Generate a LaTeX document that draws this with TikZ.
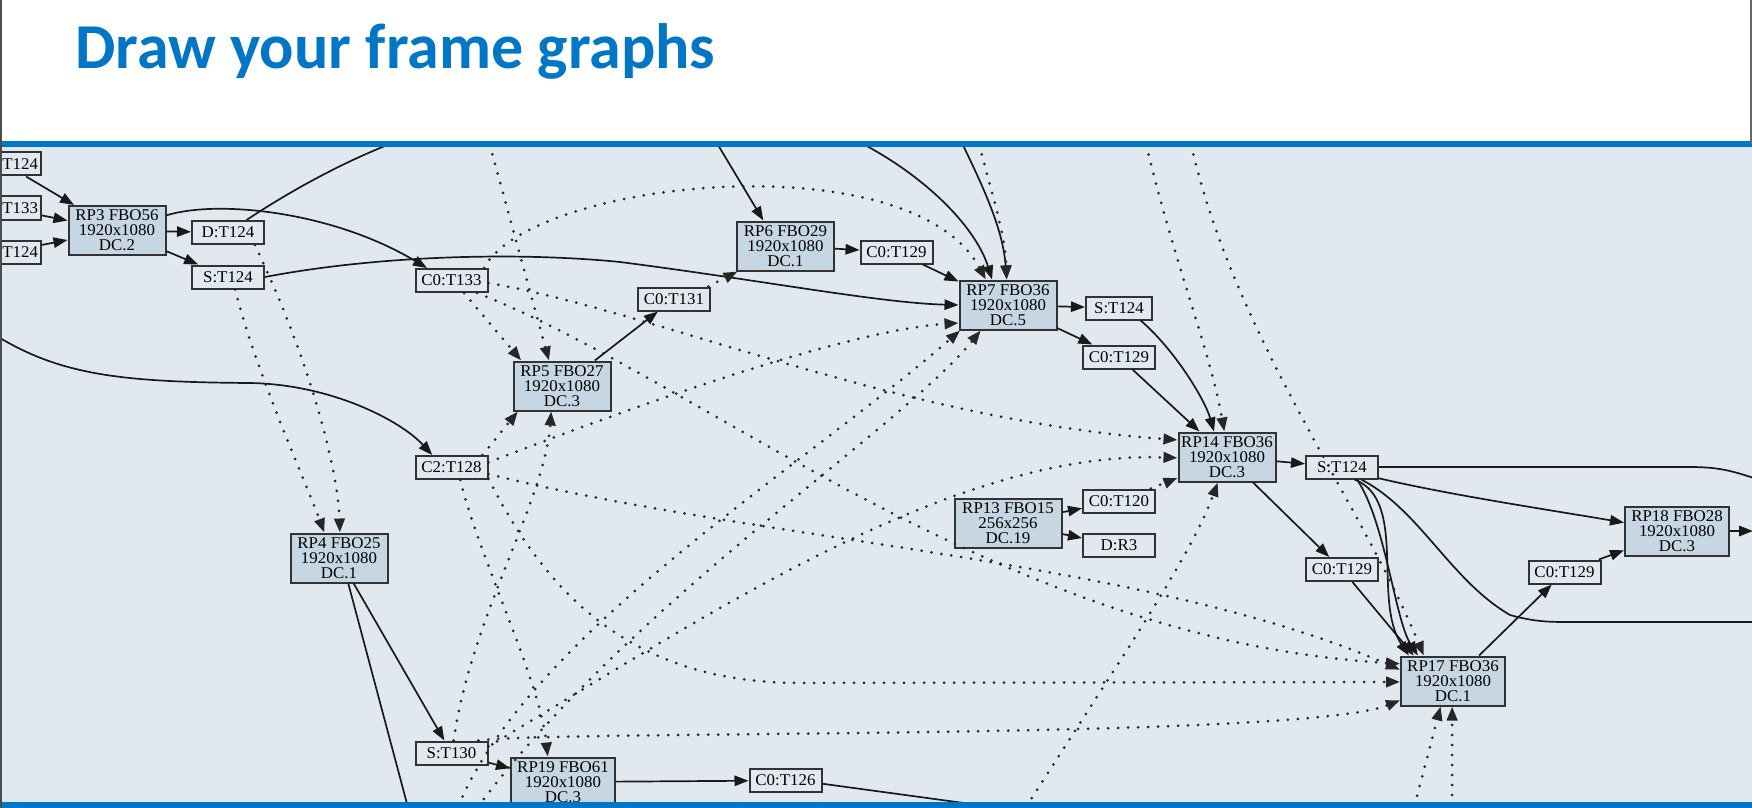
\documentclass[tikz,border=0pt]{standalone}
\usepackage{fontspec}
\usetikzlibrary{arrows.meta}
\newfontfamily\gvfont[FakeStretch=1.03]{Liberation Serif}
\newfontfamily\slidefont{Carlito}
\definecolor{slideblue}{RGB}{0,118,198}
\definecolor{graphbg}{RGB}{226,232,240}
\definecolor{passfill}{RGB}{198,214,226}
\definecolor{boxline}{RGB}{50,50,50}
\begin{document}
\begin{tikzpicture}[x=0.5pt,y=-0.5pt,
  rpass/.style={draw=boxline,line width=1pt,fill=passfill,inner sep=0pt,minimum width=48.5pt,minimum height=24.5pt,align=center,font=\gvfont\fontsize{8.2}{7.5}\selectfont},
  res/.style={draw=boxline,line width=1pt,fill=graphbg,inner sep=0pt,minimum width=36pt,minimum height=11.5pt,font=\gvfont\fontsize{8.2}{7.5}\selectfont},
  wr/.style={draw=black!90,line width=0.85pt,-{Triangle[length=7pt,width=5.2pt]}},
  rd/.style={draw=black!85,line width=1.5pt,line cap=round,dash pattern=on 0pt off 5pt,-{Triangle[length=7pt,width=5.2pt]}}]
\useasboundingbox (0,0) rectangle (1752,808);
\fill[white] (0,0) rectangle (1752,808);
\fill[graphbg] (0,144) rectangle (1752,803);

\node[anchor=base west,inner sep=0pt,text=slideblue,font=\slidefont\bfseries\fontsize{32}{38}\selectfont] (title) at (75,69) {Draw your frame graphs};

\begin{scope}
\clip (2,147) rectangle (1752,802);
\coordinate (top1) at (487,135);
\coordinate (top2) at (977,135);
\coordinate (top3) at (1144,135);
\coordinate (top4) at (1189,135);
\coordinate (top5) at (712,135);
\coordinate (top6) at (845,135);
\coordinate (top7) at (958,135);
\coordinate (top8) at (412,136);
\coordinate (lft) at (-5,335);
\coordinate (bot0) at (410,815);
\coordinate (bot1) at (455,815);
\coordinate (bot2) at (472,815);
\coordinate (bot3) at (1021,815);
\coordinate (bot4) at (1412,815);
\coordinate (bot5) at (1452,815);
\coordinate (bot6) at (1030,812);
\coordinate (rim1) at (1760,480);
\coordinate (rim2) at (1760,622);
\coordinate (rim3) at (1753,531);

\node[res,text width=33pt,align=right] (T124a) at (5,164) {T124};
\node[res,text width=33pt,align=right] (T133) at (5,208) {T133};
\node[res,text width=33pt,align=right] (T124b) at (5,252) {T124};
\node[rpass] (RP3) at (117,230.5) {RP3 FBO56\\1920x1080\\DC.2};
\node[res] (DT124) at (228,232.5) {D:T124};
\node[res] (ST124a) at (228,277) {S:T124};
\node[res] (C0T133) at (451.5,280.5) {C0:T133};
\node[res] (C2T128) at (451.5,467.5) {C2:T128};
\node[rpass] (RP5) at (562,386) {RP5 FBO27\\1920x1080\\DC.3};
\node[res] (C0T131) at (674,299) {C0:T131};
\node[rpass] (RP6) at (785.5,246) {RP6 FBO29\\1920x1080\\DC.1};
\node[res] (C0T129a) at (896.5,252) {C0:T129};
\node[rpass] (RP7) at (1008,305) {RP7 FBO36\\1920x1080\\DC.5};
\node[res,minimum width=33pt] (ST124b) at (1119,308) {S:T124};
\node[res] (C0T129b) at (1119,357) {C0:T129};
\node[rpass] (RP14) at (1227,457) {RP14 FBO36\\1920x1080\\DC.3};
\node[rpass,minimum width=53.5pt] (RP13) at (1008,523) {RP13 FBO15\\256x256\\DC.19};
\node[res] (C0T120) at (1119,501) {C0:T120};
\node[res] (DR3) at (1119,545.5) {D:R3};
\node[res] (ST124c) at (1342,467) {S:T124};
\node[res] (C0T129c) at (1342,569.5) {C0:T129};
\node[rpass,minimum width=52pt] (RP18) at (1677,531) {RP18 FBO28\\1920x1080\\DC.3};
\node[res] (C0T129d) at (1564.5,572) {C0:T129};
\node[rpass,minimum width=52pt] (RP17) at (1453,681) {RP17 FBO36\\1920x1080\\DC.1};
\node[rpass] (RP4) at (339,558) {RP4 FBO25\\1920x1080\\DC.1};
\node[res] (ST130) at (451.5,753) {S:T130};
\node[rpass,minimum width=52pt] (RP19) at (563,782) {RP19 FBO61\\1920x1080\\DC.3};
\node[res] (C0T126) at (785.5,780.5) {C0:T126};

\draw[wr] (T124a) -- (RP3);
\draw[wr] (T133) -- (RP3);
\draw[wr] (T124b) -- (RP3);
\draw[wr] (RP3) -- (DT124);
\draw[wr] (RP3) -- (ST124a);
\draw[wr] (RP3.17) .. controls (215,200) and (330,210) .. (C0T133.153);
\draw[wr,-] (DT124.34) .. controls (310,178) and (370,150) .. (top8);
\draw[wr] (ST124a.east) .. controls (380,255) and (520,252) .. (620,262) .. controls (760,280) and (880,303) .. (RP7.west);
\draw[wr] (lft) .. controls (60,375) and (120,382) .. (249,383) .. controls (330,384) and (400,420) .. (C2T128.147);
\draw[wr] (top5) -- (RP6.131);
\draw[wr] (top6) .. controls (920,170) and (975,225) .. (RP7.122);
\draw[wr] (top7) .. controls (985,190) and (1003,230) .. (RP7.93);
\draw[wr] (RP6) -- (C0T129a);
\draw[wr] (C0T129a) -- (RP7);
\draw[wr] (RP5) -- (C0T131);
\draw[wr] (RP7) -- (ST124b);
\draw[wr] (RP7) -- (C0T129b);
\draw[wr] (ST124b.-30) .. controls (1175,350) and (1205,400) .. (RP14.117);
\draw[wr] (C0T129b) -- (RP14);
\draw[wr] (RP13) -- (C0T120);
\draw[wr] (RP13) -- (DR3);
\draw[wr] (RP14) -- (ST124c);
\draw[wr] (RP14) -- (C0T129c);
\draw[wr] (ST124c.-17) .. controls (1450,495) and (1550,510) .. (RP18.171);
\draw[wr,-] (ST124c.east) -- (1690,467) .. controls (1722,467) and (1735,472) .. (rim1);
\draw[wr] (ST124c.-45) .. controls (1408,500) and (1372,600) .. (RP17.150);
\draw[wr] (ST124c.-40) .. controls (1385,520) and (1395,620) .. (RP17.144);
\draw[wr,-] (ST124c.-33) .. controls (1420,510) and (1450,580) .. (1510,615) .. controls (1535,622) and (1550,622) .. (1570,622) -- (rim2);
\draw[wr] (C0T129c) -- (RP17.147);
\draw[wr] (RP17) -- (C0T129d);
\draw[wr] (C0T129d) -- (RP18);
\draw[wr] (RP18) -- (rim3);
\draw[wr] (RP4) -- (ST130);
\draw[wr,-] (RP4.-70) -- (bot0);
\draw[wr] (ST130) -- (RP19);
\draw[wr] (RP19) -- (C0T126);
\draw[wr,-] (C0T126.-5) -- (bot6);

\draw[rd] (DT124.-25) .. controls (310,360) and (338,470) .. (RP4.88);
\draw[rd] (ST124a.-60) .. controls (255,370) and (305,480) .. (RP4.120);
\draw[rd] (top1) -- (RP5.117);
\draw[rd] (C0T133.-45) -- (RP5.148);
\draw[rd] (C0T133.21) .. controls (530,180) and (910,140) .. (RP7.131);
\draw[rd] (C0T133.-4) .. controls (650,310) and (900,420) .. (RP14.161);
\draw[rd] (C0T133.-26) .. controls (700,380) and (1000,640) .. (RP17.162);
\draw[rd] (C2T128.22) -- (RP5.210);
\draw[rd] (C2T128.8) .. controls (650,400) and (850,330) .. (RP7.200);
\draw[rd] (C2T128.-10) .. controls (750,540) and (1150,560) .. (RP17.168);
\draw[rd] (C2T128.-17) .. controls (540,580) and (620,683) .. (800,683) -- (RP17.181);
\draw[rd] (C2T128.-55) .. controls (480,560) and (540,680) .. (RP19.121);
\draw[rd] (C0T131.20) -- (RP6.208);
\draw[rd] (top2) .. controls (990,190) and (1005,230) .. (RP7.93);
\draw[rd] (top3) .. controls (1170,250) and (1210,350) .. (RP14.96);
\draw[rd] (top4) .. controls (1230,330) and (1360,500) .. (RP17.139);
\draw[rd] (C0T120) -- (RP14.203);
\draw[rd] (ST130.80) .. controls (470,620) and (545,500) .. (RP5.247);
\draw[rd] (ST130.10) .. controls (700,620) and (950,450) .. (RP14.181);
\draw[rd] (ST130.25) .. controls (560,730) and (1300,740) .. (RP17.200);
\draw[rd] (bot1) .. controls (520,640) and (800,470) .. (RP7.208);
\draw[rd] (bot2) .. controls (620,610) and (900,430) .. (RP7.223);
\draw[rd] (bot3) .. controls (1100,690) and (1190,560) .. (RP14.250);
\draw[rd] (bot4) -- (RP17.244);
\draw[rd] (bot5) -- (RP17.268);
\end{scope}

\fill[slideblue] (0,141) rectangle (1752,147);
\fill[slideblue] (0,802) rectangle (1752,808);
\draw[black!70,line width=1pt] (1,0) -- (1,808);
\draw[black!60,line width=0.8pt] (1751,0) -- (1751,144);
\end{tikzpicture}
\end{document}
